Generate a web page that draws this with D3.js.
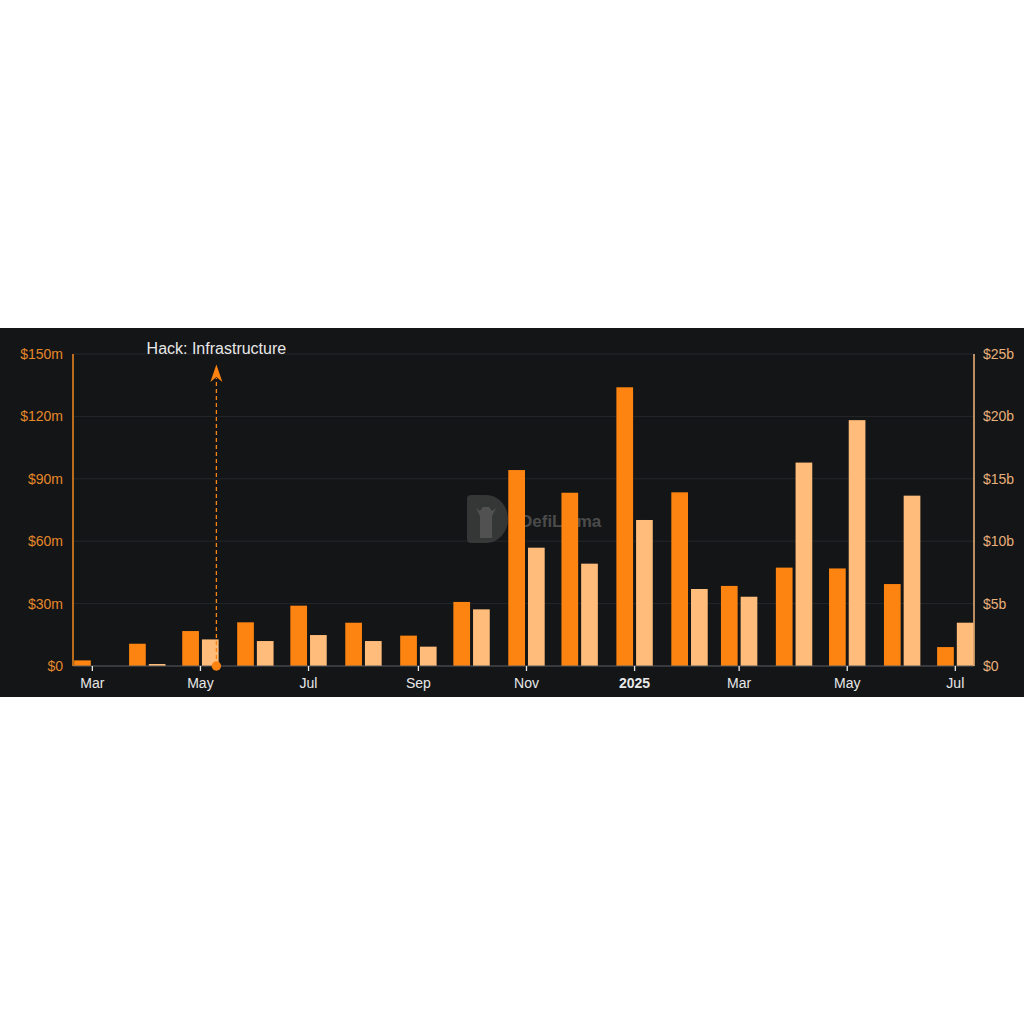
<!DOCTYPE html>
<html>
<head>
<meta charset="utf-8">
<script src="https://cdn.jsdelivr.net/npm/d3@7"></script>
<style>
  body { margin: 0; background: #ffffff; }
  svg { display: block; font-family: "Liberation Sans", Arial, sans-serif; }
</style>
</head>
<body>
<div id="chart"></div>
<script>
// Monthly data, one entry per month start
const months = ["2024-03", "2024-04", "2024-05", "2024-06", "2024-07", "2024-08", "2024-09",
    "2024-10", "2024-11", "2024-12", "2025-01", "2025-02", "2025-03", "2025-04", "2025-05",
    "2025-06", "2025-07"];
// left axis series, in $m
const hackedValues = [2.7, 10.7, 16.8, 21, 29, 20.8, 14.6, 30.8, 94.2, 83.3, 134, 83.5, 38.5, 47.3, 46.9, 39.4, 9.1];
// right axis series, in $b
const tvlValues = [0, 0.16, 2.13, 2.0, 2.48, 2.0, 1.55, 4.54, 9.48, 8.2, 11.7, 6.17, 5.55, 16.3, 19.7, 13.65, 3.47];

const leftTicks = [0, 30, 60, 90, 120, 150];
const rightTicks = [0, 5, 10, 15, 20, 25];

const annotations = [{ date: "2024-05-10", label: "Hack: Infrastructure" }];

const width = 1024, height = 1024;
const panel = { top: 328, bottom: 697 };
const margin = { left: 73, right: 974, top: 354, bottom: 666 };

const parseMonth = d3.timeParse("%Y-%m");
const parseDay = d3.timeParse("%Y-%m-%d");

const data = months.map((m, i) => ({ date: parseMonth(m), hacked: hackedValues[i], tvl: tvlValues[i] }));

const svg = d3.select('#chart').append('svg')
    .attr('width', width)
    .attr('height', height);

svg.append('rect')
    .attr('x', 0).attr('y', panel.top)
    .attr('width', width).attr('height', panel.bottom - panel.top)
    .attr('fill', '#141517');

const x = d3.scaleTime()
    .domain([new Date(2024, 1, 19, 2), new Date(2025, 6, 11, 13)])
    .range([margin.left, margin.right]);

const yLeft = d3.scaleLinear().domain([0, 150]).range([margin.bottom, margin.top]);
const yRight = d3.scaleLinear().domain([0, 25]).range([margin.bottom, margin.top]);

// grid lines
svg.append('g')
    .selectAll('line')
    .data(leftTicks.slice(1))
    .enter().append('line')
    .attr('x1', margin.left).attr('x2', margin.right)
    .attr('y1', d => yLeft(d)).attr('y2', d => yLeft(d))
    .attr('stroke', '#25272b')
    .attr('stroke-width', 1);

// watermark (behind bars)
const wm = svg.append('g').attr('opacity', 0.6);
wm.append('path')
    .attr('d', 'M471,495 h15 a22,24 0 0 1 0,48 h-15 a4,4 0 0 1 -4,-4 v-40 a4,4 0 0 1 4,-4 z')
    .attr('fill', '#4c4c4c');
wm.append('path')
    .attr('d', 'M480,538 v-22 l-4,-8 l4,3 l3,-4 h6 l3,4 l4,-3 l-4,8 v22 z')
    .attr('fill', '#7a7a7a');
wm.append('text')
    .attr('x', 520).attr('y', 527)
    .attr('font-size', 17).attr('font-weight', 'bold')
    .attr('fill', '#707070')
    .text('DefiLlama');

const barW = 16.7, gap = 3;

svg.append('g')
    .selectAll('rect')
    .data(data)
    .enter().append('rect')
    .attr('x', d => x(d.date) - gap / 2 - barW)
    .attr('y', d => yLeft(d.hacked))
    .attr('width', barW)
    .attr('height', d => yLeft(0) - yLeft(d.hacked))
    .attr('fill', '#fd8410');

svg.append('g')
    .selectAll('rect')
    .data(data.filter(d => d.tvl > 0))
    .enter().append('rect')
    .attr('x', d => x(d.date) + gap / 2)
    .attr('y', d => yRight(d.tvl))
    .attr('width', barW)
    .attr('height', d => yRight(0) - yRight(d.tvl))
    .attr('fill', '#ffbc7a');

// baseline
svg.append('line')
    .attr('x1', margin.left).attr('x2', margin.right)
    .attr('y1', margin.bottom).attr('y2', margin.bottom)
    .attr('stroke', '#5c5e62').attr('stroke-width', 1.2);

// left axis
const leftAxis = svg.append('g');
leftAxis.append('line')
    .attr('x1', margin.left).attr('x2', margin.left)
    .attr('y1', margin.top).attr('y2', margin.bottom)
    .attr('stroke', '#f08a1e').attr('stroke-width', 1.5);
leftAxis.selectAll('text')
    .data(leftTicks)
    .enter().append('text')
    .attr('x', 63)
    .attr('y', d => yLeft(d))
    .attr('dy', '0.35em')
    .attr('text-anchor', 'end')
    .attr('font-size', 14)
    .attr('fill', '#e5882a')
    .text(d => d === 0 ? '$0' : `$${d}m`);

// right axis
const rightAxis = svg.append('g');
rightAxis.append('line')
    .attr('x1', margin.right).attr('x2', margin.right)
    .attr('y1', margin.top).attr('y2', margin.bottom)
    .attr('stroke', '#f5b679').attr('stroke-width', 1.5);
rightAxis.selectAll('text')
    .data(rightTicks)
    .enter().append('text')
    .attr('x', 983)
    .attr('y', d => yRight(d))
    .attr('dy', '0.35em')
    .attr('text-anchor', 'start')
    .attr('font-size', 14)
    .attr('fill', '#e8b07a')
    .text(d => d === 0 ? '$0' : `$${d}b`);

// x axis
const xTicks = d3.timeMonth.every(2).range(new Date(2024, 2, 1), new Date(2025, 6, 2));
const xAxis = svg.append('g');
xAxis.selectAll('line')
    .data(xTicks)
    .enter().append('line')
    .attr('x1', d => x(d)).attr('x2', d => x(d))
    .attr('y1', margin.bottom).attr('y2', margin.bottom + 5)
    .attr('stroke', '#e8e8e8').attr('stroke-width', 1.3);
xAxis.selectAll('text')
    .data(xTicks)
    .enter().append('text')
    .attr('x', d => x(d))
    .attr('y', 688)
    .attr('text-anchor', 'middle')
    .attr('font-size', 14)
    .attr('font-weight', d => d.getMonth() === 0 ? 'bold' : 'normal')
    .attr('fill', '#e8e8e8')
    .text(d => d.getMonth() === 0 ? d3.timeFormat('%Y')(d) : d3.timeFormat('%b')(d));

// annotation
annotations.forEach(a => {
    const ax = x(parseDay(a.date));
    const g = svg.append('g');
    g.append('line')
        .attr('x1', ax).attr('x2', ax)
        .attr('y1', margin.bottom).attr('y2', 378)
        .attr('stroke', '#fd8410').attr('stroke-width', 1.3)
        .attr('stroke-dasharray', '4,3');
    g.append('path')
        .attr('d', `M${ax},364.5 L${ax + 6},382 L${ax},377 L${ax - 6},382 Z`)
        .attr('fill', '#fd8410');
    g.append('circle')
        .attr('cx', ax).attr('cy', margin.bottom)
        .attr('r', 4.7)
        .attr('fill', '#fd8410');
    g.append('text')
        .attr('x', ax).attr('y', 354)
        .attr('text-anchor', 'middle')
        .attr('font-size', 16)
        .attr('fill', '#e8e8e8')
        .text(a.label);
});
</script>
</body>
</html>
